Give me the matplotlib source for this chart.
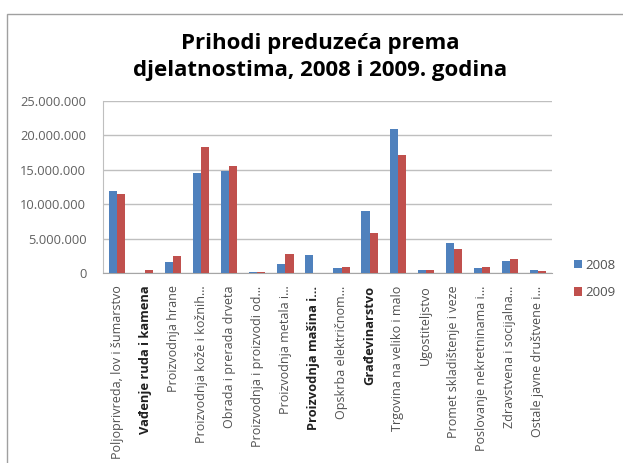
import matplotlib
matplotlib.use("Agg")
import matplotlib.pyplot as plt
import numpy as np
from matplotlib.patches import Rectangle

categories = [
    "Poljoprivreda, lov i šumarstvo",
    "Vađenje ruda i kamena",
    "Proizvodnja hrane",
    "Proizvodnja kože i kožnih…",
    "Obrada i prerada drveta",
    "Proizvodnja i proizvodi od…",
    "Proizvodnja metala i…",
    "Proizvodnja mašina i…",
    "Opskrba električnom…",
    "Građevinarstvo",
    "Trgovina na veliko i malo",
    "Ugostiteljstvo",
    "Promet skladištenje i veze",
    "Poslovanje nekretninama i…",
    "Zdravstvena i socijalna…",
    "Ostale javne društvene i…",
]
bold_labels = {1, 7, 9}
values_2008 = [11.9e6, 0, 1.55e6, 14.5e6, 14.85e6, 0.15e6, 1.35e6, 2.65e6, 0.75e6,
               8.95e6, 20.9e6, 0.4e6, 4.3e6, 0.75e6, 1.75e6, 0.4e6]
values_2009 = [11.5e6, 0.38e6, 2.5e6, 18.3e6, 15.5e6, 0.15e6, 2.8e6, 0, 0.85e6,
               5.85e6, 17.15e6, 0.4e6, 3.5e6, 0.85e6, 2.1e6, 0.3e6]
series_names = ["2008", "2009"]
yticks = [0, 5e6, 10e6, 15e6, 20e6, 25e6]

blue = "#4F81BD"
red = "#C0504D"
W, H = 623, 463
fig = plt.figure(figsize=(W / 100, H / 100), dpi=100)
fig.patch.set_facecolor("white")

# chart border
fig.patches.append(Rectangle((7 / W, -0.1), 1.2, 1 - 14 / H + 0.1, transform=fig.transFigure,
                             fill=False, edgecolor="#A0A0A0", linewidth=1.0))

ax = fig.add_axes([103 / W, (H - 273) / H, (552 - 103) / W, (273 - 101) / H])
x = np.arange(len(categories))
bw = 0.29
ax.bar(x - bw / 2, values_2008, width=bw, color=blue, label=series_names[0], zorder=3)
ax.bar(x + bw / 2, values_2009, width=bw, color=red, label=series_names[1], zorder=3)

ax.set_xlim(-0.5, len(categories) - 0.5)
ax.set_ylim(0, 25e6)
ax.set_yticks(yticks)
ax.set_yticklabels([f"{int(v):,}".replace(",", ".") for v in yticks],
                   fontsize=9.3, color="#606060", family="Open Sans")
ax.yaxis.grid(True, color="#BFBFBF", linewidth=1.0, zorder=0)
ax.set_axisbelow(True)
ax.tick_params(axis="y", length=0, pad=12)
ax.tick_params(axis="x", length=0, pad=9)
ax.set_xticks(x)
ax.set_xticklabels(categories, rotation=90, fontsize=9.0, color="#505050",
                   family="Open Sans", va="top")
for i, t in enumerate(ax.get_xticklabels()):
    if i in bold_labels:
        t.set_fontweight("bold")
        t.set_fontsize(9.3)
        t.set_color("#202020")
for s in ["top", "right"]:
    ax.spines[s].set_visible(False)
ax.spines["left"].set_color("#BFBFBF")
ax.spines["bottom"].set_color("#A6A6A6")

fig.text(320 / W, 1 - 57 / H, "Prihodi preduzeća prema\ndjelatnostima, 2008 i 2009. godina",
         ha="center", va="center", fontsize=16, fontweight="bold",
         family="Open Sans", color="#000000", linespacing=1.33)

leg = fig.legend(loc="center left", bbox_to_anchor=(567 / W, 1 - 279 / H), frameon=False,
                 handlelength=0.6, handleheight=0.6, handletextpad=0.3,
                 labelspacing=1.1, borderpad=0, prop={"family": "Open Sans", "size": 9.5})
for t in leg.get_texts():
    t.set_color("#505050")

fig.savefig("out.png", dpi=100)
